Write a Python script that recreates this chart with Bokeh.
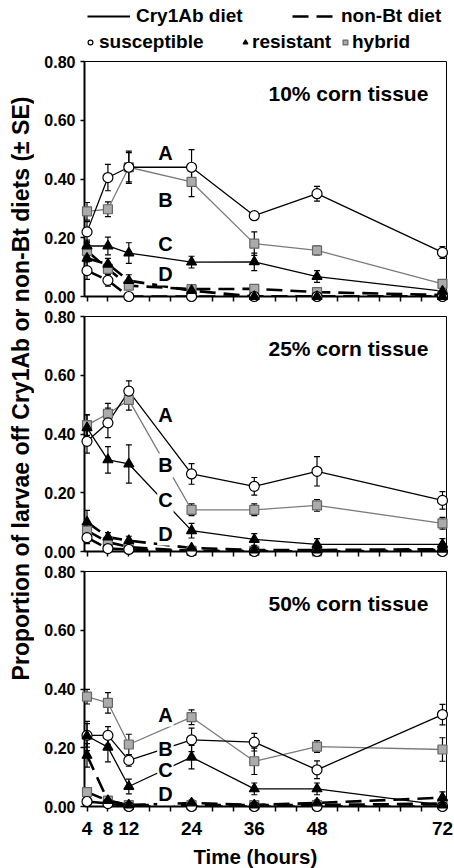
import math
from bokeh.plotting import figure
from bokeh.models import (Range1d, FixedTicker, PrintfTickFormatter, Whisker, TeeHead,
                          ColumnDataSource, Label, Legend, LegendItem)
from bokeh.layouts import row, column
from bokeh.embed import file_html
from bokeh.resources import INLINE

FONT = "Liberation Sans"

# ---------------- data ----------------
time_h = [4, 8, 12, 24, 36, 48, 72]
x_ticks = list(range(4, 73, 4))
x_labeled = [4, 8, 12, 24, 36, 48, 72]
y_ticks = [0.0, 0.2, 0.4, 0.6, 0.8]

panel_titles = ["10% corn tissue", "25% corn tissue", "50% corn tissue"]
group_letters = ["A", "B", "C", "D"]
letter_x = 19
letter_y_10 = [0.49, 0.33, 0.18, 0.078]
letter_y_25 = [0.463, 0.293, 0.174, 0.061]
letter_y_50 = [0.313, 0.197, 0.123, 0.044]

# 10% corn tissue
cry_sus_10 = [0.22, 0.405, 0.44, 0.44, 0.275, 0.35, 0.15]
cry_sus_10_se = [0.035, 0.045, 0.055, 0.06, 0.01, 0.025, 0.02]
cry_res_10 = [0.172, 0.172, 0.148, 0.117, 0.118, 0.068, 0.018]
cry_res_10_se = [0.02, 0.03, 0.035, 0.02, 0.03, 0.02, 0.01]
cry_hyb_10 = [0.29, 0.297, 0.44, 0.39, 0.18, 0.157, 0.043]
cry_hyb_10_se = [0.03, 0.025, 0.05, 0.05, 0.04, 0.015, 0.01]
non_sus_10 = [0.088, 0.055, 0.0, 0.0, 0.0, 0.0, 0.0]
non_sus_10_se = [0.03, 0.02, 0, 0, 0, 0, 0]
non_res_10 = [0.13, 0.11, 0.054, 0.02, 0.0, 0.0, 0.0]
non_res_10_se = [0.03, 0.02, 0.02, 0.005, 0, 0, 0]
non_hyb_10 = [0.155, 0.094, 0.037, 0.025, 0.026, 0.015, 0.005]
non_hyb_10_se = [0.03, 0.02, 0.01, 0.005, 0.005, 0.005, 0]

# 25% corn tissue
cry_sus_25 = [0.375, 0.438, 0.546, 0.264, 0.222, 0.273, 0.174]
cry_sus_25_se = [0.04, 0.05, 0.035, 0.035, 0.03, 0.05, 0.03]
cry_res_25 = [0.421, 0.312, 0.298, 0.071, 0.041, 0.024, 0.024]
cry_res_25_se = [0.045, 0.045, 0.065, 0.025, 0.02, 0.02, 0.02]
cry_hyb_25 = [0.43, 0.469, 0.516, 0.142, 0.142, 0.157, 0.096]
cry_hyb_25_se = [0.035, 0.035, 0.035, 0.02, 0.02, 0.02, 0.02]
non_sus_25 = [0.047, 0.01, 0.007, 0.0, 0.0, 0.0, 0.0]
non_sus_25_se = [0.02, 0.01, 0, 0, 0, 0, 0]
non_res_25 = [0.1, 0.049, 0.037, 0.012, 0.005, 0.005, 0.008]
non_res_25_se = [0.04, 0.015, 0.015, 0.005, 0, 0, 0.01]
non_hyb_25 = [0.071, 0.032, 0.015, 0.002, 0.002, 0.0, 0.005]
non_hyb_25_se = [0.02, 0.01, 0.005, 0, 0, 0, 0]

# 50% corn tissue
cry_sus_50 = [0.242, 0.242, 0.157, 0.227, 0.219, 0.125, 0.313]
cry_sus_50_se = [0.04, 0.03, 0.02, 0.04, 0.03, 0.03, 0.035]
cry_res_50 = [0.24, 0.202, 0.068, 0.168, 0.06, 0.06, 0.005]
cry_res_50_se = [0.05, 0.05, 0.025, 0.04, 0.02, 0.02, 0.02]
cry_hyb_50 = [0.374, 0.353, 0.211, 0.304, 0.154, 0.204, 0.194]
cry_hyb_50_se = [0.025, 0.035, 0.035, 0.025, 0.045, 0.02, 0.04]
non_sus_50 = [0.017, 0.01, 0.0, 0.0, 0.0, 0.0, 0.0]
non_sus_50_se = [0, 0, 0, 0, 0, 0, 0]
non_res_50 = [0.174, 0.02, 0.005, 0.012, 0.005, 0.012, 0.03]
non_res_50_se = [0.04, 0.01, 0, 0.01, 0, 0.01, 0.02]
non_hyb_50 = [0.049, 0.02, 0.005, 0.005, 0.005, 0.005, 0.01]
non_hyb_50_se = [0.01, 0.005, 0, 0, 0, 0, 0]

legend_diets = ["Cry1Ab diet", "non-Bt diet"]
legend_strains = ["susceptible", "resistant", "hybrid"]
y_label = "Proportion of larvae off Cry1Ab or non-Bt diets (\u00b1 SE)"
x_label = "Time (hours)"

panels = [
    (panel_titles[0], letter_y_10,
     {"sus": (cry_sus_10, cry_sus_10_se), "res": (cry_res_10, cry_res_10_se), "hyb": (cry_hyb_10, cry_hyb_10_se)},
     {"sus": (non_sus_10, non_sus_10_se), "res": (non_res_10, non_res_10_se), "hyb": (non_hyb_10, non_hyb_10_se)}),
    (panel_titles[1], letter_y_25,
     {"sus": (cry_sus_25, cry_sus_25_se), "res": (cry_res_25, cry_res_25_se), "hyb": (cry_hyb_25, cry_hyb_25_se)},
     {"sus": (non_sus_25, non_sus_25_se), "res": (non_res_25, non_res_25_se), "hyb": (non_hyb_25, non_hyb_25_se)}),
    (panel_titles[2], letter_y_50,
     {"sus": (cry_sus_50, cry_sus_50_se), "res": (cry_res_50, cry_res_50_se), "hyb": (cry_hyb_50, cry_hyb_50_se)},
     {"sus": (non_sus_50, non_sus_50_se), "res": (non_res_50, non_res_50_se), "hyb": (non_hyb_50, non_hyb_50_se)}),
]

# ---------------- styles / layout ----------------
STY = {
    "sus": dict(marker="circle", size=10, fill="white", edge="black", line="black"),
    "res": dict(marker="triangle", size=10, fill="black", edge="black", line="black"),
    "hyb": dict(marker="square", size=9, fill="#ababab", edge="#666666", line="#7a7a7a"),
}
ORDER = ("hyb", "sus", "res")
STRIP_W = 34
PANEL_W = 420
FRAME_H = 235
LEFT_B = 50
RIGHT_B = 8
LEG_H = 53
TIME_H = 24
X_RANGE = (3.52, 72.77)


def add_whiskers(p, y, se):
    pts = [(t, v, s) for t, v, s in zip(time_h, y, se) if s > 0]
    if not pts:
        return
    src = ColumnDataSource(dict(x=[a for a, _, _ in pts],
                                lo=[max(0.0, v - s) for _, v, s in pts],
                                hi=[v + s for _, v, s in pts]))
    w = Whisker(source=src, base="x", lower="lo", upper="hi", dimension="height",
                line_color="black", line_width=1.2,
                upper_head=TeeHead(size=6, line_color="black", line_width=1.2),
                lower_head=TeeHead(size=6, line_color="black", line_width=1.2))
    p.add_layout(w)


def make_panel(i, top_b, bottom_b, last):
    title, letter_ys, cry, non = panels[i]
    p = figure(width=PANEL_W, height=top_b + FRAME_H + bottom_b,
               x_range=Range1d(*X_RANGE), y_range=Range1d(0, 0.8),
               output_backend="svg", toolbar_location=None,
               min_border_left=LEFT_B, min_border_right=RIGHT_B,
               min_border_top=top_b, min_border_bottom=bottom_b)
    p.grid.visible = False
    p.outline_line_color = "black"
    p.outline_line_width = 1
    p.background_fill_color = "white"
    p.border_fill_color = "white"

    xa = p.xaxis[0]
    ya = p.yaxis[0]
    xa.ticker = FixedTicker(ticks=x_ticks, minor_ticks=[])
    xa.major_label_overrides = {t: (str(t) if (t in x_labeled and last) else "") for t in x_ticks}
    ya.ticker = FixedTicker(ticks=y_ticks, minor_ticks=[])
    ya.formatter = PrintfTickFormatter(format="%.2f")
    for ax in (xa, ya):
        ax.axis_line_width = 2
        ax.axis_line_color = "black"
        ax.major_tick_line_width = 1.5
        ax.major_tick_line_color = "black"
        ax.major_tick_in = 0
        ax.minor_tick_line_color = None
        ax.major_label_text_font = FONT
        ax.major_label_text_font_style = "bold"
        ax.major_label_text_color = "black"
    xa.major_tick_out = 5
    ya.major_tick_out = 4
    ya.major_label_text_font_size = "16px"
    ya.major_label_standoff = 5
    if last:
        xa.major_label_text_font_size = "19px"
        xa.major_label_standoff = 10
    else:
        xa.major_label_text_font_size = "0px"
        xa.major_label_standoff = 0

    for diet, data in (("non", non), ("cry", cry)):
        for k in ORDER:
            y, se = data[k]
            st = STY[k]
            if diet == "non":
                p.line(time_h, y, line_color="black", line_width=2.6, line_dash="16 8")
            else:
                p.line(time_h, y, line_color=st["line"], line_width=1.3)
            add_whiskers(p, y, se)
    for diet, data in (("non", non), ("cry", cry)):
        for k in ORDER:
            y, se = data[k]
            st = STY[k]
            p.scatter(time_h, y, marker=st["marker"], size=st["size"],
                      fill_color=st["fill"], line_color=st["edge"], line_width=1.2,
                      level="overlay")

    for L, ly in zip(group_letters, letter_ys):
        p.add_layout(Label(x=letter_x, y=ly, text=L, text_align="center", text_baseline="middle",
                           text_font=FONT, text_font_size="20px", text_font_style="bold",
                           text_color="black", background_fill_color="white", padding=1))
    p.add_layout(Label(x=69.3, y=0.69, text=title, text_align="right", text_baseline="middle",
                       text_font=FONT, text_font_size="21px", text_font_style="bold",
                       text_color="black"))
    return p


def strip(width, height, left=0, right=0, xr=(0, 1)):
    s = figure(width=width, height=height, x_range=Range1d(*xr), y_range=Range1d(0, 1),
               output_backend="svg", toolbar_location=None, min_border=0,
               min_border_left=left, min_border_right=right,
               x_axis_location=None, y_axis_location=None)
    s.grid.visible = False
    s.outline_line_color = None
    return s


# ---------- legend strip (top); its frame is aligned with the panels' frames ----------
leg = strip(PANEL_W, LEG_H, LEFT_B, RIGHT_B)
off = [-5.0]  # legend-only renderers, outside the visible range
r_cry = leg.line(off, off, line_color="black", line_width=2)
r_non = leg.line(off, off, line_color="black", line_width=2.6, line_dash="16 8")
r_sus = leg.scatter(off, off, marker="circle", size=10, fill_color="white", line_color="black", line_width=1.2)
r_res = leg.scatter(off, off, marker="triangle", size=10, fill_color="black", line_color="black", line_width=1.2)
r_hyb = leg.scatter(off, off, marker="square", size=9, fill_color="#ababab", line_color="#666666", line_width=1.2)


def add_leg(p, label, renderer, x, y, gw, standoff):
    lg = Legend(items=[LegendItem(label=label, renderers=[renderer])], location=(x, y),
                orientation="horizontal", glyph_width=gw, glyph_height=22, label_height=22,
                label_standoff=standoff, padding=0, margin=0, spacing=0,
                border_line_color=None, background_fill_alpha=0,
                label_text_font=FONT, label_text_font_size="19px",
                label_text_font_style="bold", label_text_color="black")
    p.add_layout(lg)


add_leg(leg, legend_diets[0], r_cry, 3, 26, 43, 6)
add_leg(leg, legend_diets[1], r_non, 208, 26, 41, 8)
add_leg(leg, legend_strains[0], r_sus, 0, 0, 12, 3)
add_leg(leg, legend_strains[1], r_res, 155, 0, 12, 1)
add_leg(leg, legend_strains[2], r_hyb, 255, 0, 12, 1)

p1 = make_panel(0, 8, 10, False)
p2 = make_panel(1, 10, 10, False)
p3 = make_panel(2, 10, 38, True)

# ---------- x axis title strip (bottom) ----------
tstrip = strip(PANEL_W, TIME_H, LEFT_B, RIGHT_B, xr=X_RANGE)
tstrip.add_layout(Label(x=36.2, y=0.5, text=x_label, text_align="center", text_baseline="middle",
                        text_font=FONT, text_font_size="20.5px", text_font_style="bold",
                        text_color="black"))

TOTAL_H = LEG_H + (8 + FRAME_H + 10) + (10 + FRAME_H + 10) + (10 + FRAME_H + 38) + TIME_H

# ---------- y axis title strip ----------
lab = strip(STRIP_W, TOTAL_H)
lab.add_layout(Label(x=20 / STRIP_W, y=(TOTAL_H - 388) / TOTAL_H, text=y_label, angle=math.pi / 2,
                     text_align="center", text_baseline="middle", text_font=FONT,
                     text_font_size="23px", text_font_style="bold", text_color="black"))

layout = row(lab, column(leg, p1, p2, p3, tstrip, spacing=0), spacing=0)
open("out.html", "w").write(file_html(layout, INLINE))
